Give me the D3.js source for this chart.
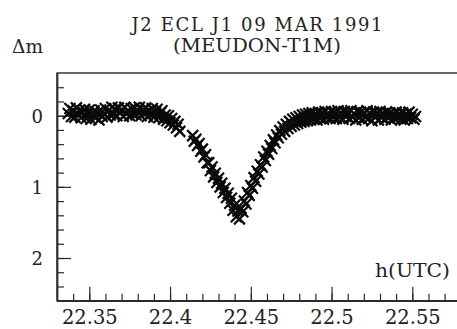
<!DOCTYPE html>
<html><head><meta charset="utf-8">
<script src="https://cdn.jsdelivr.net/npm/d3@7"></script>
<style>
body{margin:0;background:#fff}
svg{display:block}
text{font-family:"DejaVu Serif",serif;fill:#222}
</style>
</head><body><svg id="c" width="457" height="329"></svg>
<script>
// Light curve: time (h UTC) and magnitude drop (Δm)
const timeBefore=[22.337,22.338,22.339,22.340,22.341,22.342,22.343,22.344,22.345,22.346,22.347,22.348,22.349,22.350,22.351,22.352,22.353,22.354,22.355,22.356,22.357,22.358,22.359,22.360,22.361,22.362,22.363,22.364,22.365,22.366,22.367,22.368,22.369,22.370,22.371,22.372,22.373,22.374,22.375,22.376,22.377,22.378,22.379,22.380,22.381,22.382,22.383,22.384,22.385,22.386,22.387,22.388,22.389,22.390,22.391,22.392,22.393,22.394,22.395,22.396,22.397,22.398,22.399,22.400,22.401,22.402,22.403,22.404,22.405,22.406];
const dmBefore=[-0.03,-0.10,0.01,-0.07,0.02,-0.11,-0.02,-0.08,0.03,-0.05,
-0.09,0.04,-0.03,-0.08,0.05,-0.01,-0.07,0.03,-0.04,0.06,
-0.08,0.01,-0.03,-0.10,0.02,-0.07,-0.01,-0.12,-0.02,-0.09,
0.00,-0.11,-0.04,-0.08,0.01,-0.12,-0.03,-0.07,0.00,-0.10,
-0.02,-0.11,-0.01,-0.06,-0.12,0.00,-0.08,-0.03,-0.11,0.01,
-0.07,-0.02,-0.10,0.02,-0.05,-0.09,0.03,-0.04,-0.07,0.05,
-0.01,0.07,0.00,0.10,0.04,0.13,0.08,0.17,0.12,0.22];
const timeAfter=[22.414,22.415,22.416,22.417,22.418,22.419,22.420,22.421,22.422,22.423,
22.424,22.425,22.426,22.427,22.428,22.429,22.430,22.431,22.432,22.433,
22.434,22.435,22.436,22.437,22.438,22.439,22.440,22.441,22.442,22.443,
22.444,22.445,22.446,22.447,22.448,22.449,22.450,22.451,22.452,22.453,
22.454,22.455,22.456,22.457,22.458,22.459,22.460,22.461,22.462,22.463,
22.464,22.465,22.466,22.467,22.468,22.469,22.470,22.471,22.472,22.473,
22.474,22.475,22.476,22.477,22.478,22.479,22.480,22.481,22.482,22.483,
22.484,22.485,22.486,22.487,22.488,22.489,22.490,22.491,22.492,22.493,
22.494,22.495,22.496,22.497,22.498,22.499,22.500,22.501,22.502,22.503,
22.504,22.505,22.506,22.507,22.508,22.509,22.510,22.511,22.512,22.513,
22.514,22.515,22.516,22.517,22.518,22.519,22.520,22.521,22.522,22.523,
22.524,22.525,22.526,22.527,22.528,22.529,22.530,22.531,22.532,22.533,
22.534,22.535,22.536,22.537,22.538,22.539,22.540,22.541,22.542,22.543,
22.544,22.545,22.546,22.547,22.548,22.549,22.550,22.551,22.552];
const dmAfter=[0.28,0.36,0.33,0.42,0.39,0.50,0.47,0.58,0.55,0.66,
0.66,0.77,0.72,0.86,0.81,0.94,0.88,1.00,0.95,1.08,
1.02,1.15,1.09,1.23,1.16,1.33,1.26,1.42,1.34,1.45,
1.30,1.35,1.20,1.24,1.08,1.12,0.98,1.02,0.87,0.92,
0.78,0.82,0.69,0.72,0.58,0.63,0.50,0.54,0.42,0.46,
0.34,0.38,0.27,0.31,0.21,0.26,0.16,0.22,0.12,0.18,
0.08,0.15,0.05,0.13,0.03,0.11,0.01,0.09,-0.01,0.08,
-0.02,0.07,-0.03,0.06,-0.04,0.05,-0.03,0.06,-0.05,0.04,
-0.04,0.05,-0.06,0.03,-0.03,0.04,-0.06,0.02,-0.05,0.04,
-0.07,0.03,-0.04,0.05,-0.06,0.01,-0.05,0.04,-0.07,0.02,
-0.03,0.06,-0.06,0.03,-0.05,0.05,-0.04,0.02,-0.07,0.04,
-0.03,0.07,-0.05,0.02,-0.04,0.06,-0.06,0.03,-0.03,0.05,
-0.05,0.02,-0.04,0.06,-0.02,0.04,-0.05,0.03,-0.03,0.05,
-0.04,0.06,-0.02,0.04,-0.05,0.03,-0.02,0.05,0.01];
const xTicks=[22.35,22.4,22.45,22.5,22.55];
const xTickLabels=["22.35","22.4","22.45","22.5","22.55"];
const yTicks=[0,1,2];
const yTickLabels=["0","1","2"];
const titleLines=["J2 ECL J1 09 MAR 1991","(MEUDON-T1M)"];
const yAxisLabel="Δm";
const xAxisLabel="h(UTC)";

const svg=d3.select("#c");
const plotLeft=57, plotTop=73, plotBottom=300.7, pxPerHour=1615;
const x=d3.scaleLinear().domain([22.33,22.58]).range([plotLeft,plotLeft+0.25*pxPerHour]);
const y=d3.scaleLinear().domain([-0.6,2.6]).range([plotTop,plotBottom]);
const ink="#2a2a2a";
const serif='"DejaVu Serif",serif';

// frame
svg.append("rect").attr("x",plotLeft).attr("y",plotTop)
  .attr("width",x.range()[1]-plotLeft).attr("height",plotBottom-plotTop)
  .attr("fill","none").attr("stroke",ink).attr("stroke-width",1.4);

// x axis (ticks pointing inward)
const xMinor=d3.range(22.34,22.575,0.01).map(v=>+v.toFixed(2));
const gxm=svg.append("g").attr("transform",`translate(0,${plotBottom})`)
  .call(d3.axisBottom(x).tickValues(xMinor).tickSize(-7).tickSizeOuter(0).tickFormat(""));
const gx=svg.append("g").attr("transform",`translate(0,${plotBottom})`)
  .call(d3.axisBottom(x).tickValues(xTicks).tickSize(-14).tickSizeOuter(0)
    .tickFormat((d,i)=>xTickLabels[i]));
[gxm,gx].forEach(g=>{g.attr("font-family",null);
  g.select(".domain").attr("stroke",ink).attr("stroke-width",1.4);
  g.selectAll(".tick line").attr("stroke",ink).attr("stroke-width",1.2);});
gx.selectAll(".tick text").attr("y",23.5).attr("dy",null)
  .style("font-family",serif).style("font-size","19.5px").attr("fill","#222");

// y axis
const yMinor=d3.range(-0.4,2.41,0.2).map(v=>+v.toFixed(1));
const gym=svg.append("g").attr("transform",`translate(${plotLeft},0)`)
  .call(d3.axisLeft(y).tickValues(yMinor).tickSize(-7).tickSizeOuter(0).tickFormat(""));
const gy=svg.append("g").attr("transform",`translate(${plotLeft},0)`)
  .call(d3.axisLeft(y).tickValues(yTicks).tickSize(-14).tickSizeOuter(0)
    .tickFormat((d,i)=>yTickLabels[i]));
[gym,gy].forEach(g=>{g.attr("font-family",null);
  g.select(".domain").attr("stroke",ink).attr("stroke-width",1.4);
  g.selectAll(".tick line").attr("stroke",ink).attr("stroke-width",1.2);});
gy.selectAll(".tick text").attr("x",-14).attr("dy","0.36em")
  .style("font-family",serif).style("font-size","18px").attr("fill","#222");

// titles and axis labels
svg.append("text").attr("x",257).attr("y",31).attr("text-anchor","middle")
  .attr("textLength",251).attr("lengthAdjust","spacing")
  .style("font-size","18px").text(titleLines[0]);
svg.append("text").attr("x",257).attr("y",51.5).attr("text-anchor","middle")
  .attr("textLength",168).attr("lengthAdjust","spacingAndGlyphs")
  .style("font-size","18px").text(titleLines[1]);
svg.append("text").attr("x",12).attr("y",53)
  .attr("textLength",31).attr("lengthAdjust","spacingAndGlyphs")
  .style("font-size","18px").text(yAxisLabel);
svg.append("text").attr("x",375).attr("y",277)
  .attr("textLength",75).attr("lengthAdjust","spacingAndGlyphs")
  .style("font-size","18px").text(xAxisLabel);

// data as x-markers
const pts=timeBefore.map((t,i)=>({t,m:dmBefore[i]}))
  .concat(timeAfter.map((t,i)=>({t,m:dmAfter[i]})));
const s=5.5;
svg.append("g").selectAll("path").data(pts).join("path")
  .attr("d",d=>{const cx=x(d.t),cy=y(d.m);
    return `M${cx-s},${cy-s}L${cx+s},${cy+s}M${cx-s},${cy+s}L${cx+s},${cy-s}`;})
  .attr("stroke","#0a0a0a").attr("stroke-width",2.2).attr("fill","none");
</script>
</body></html>
